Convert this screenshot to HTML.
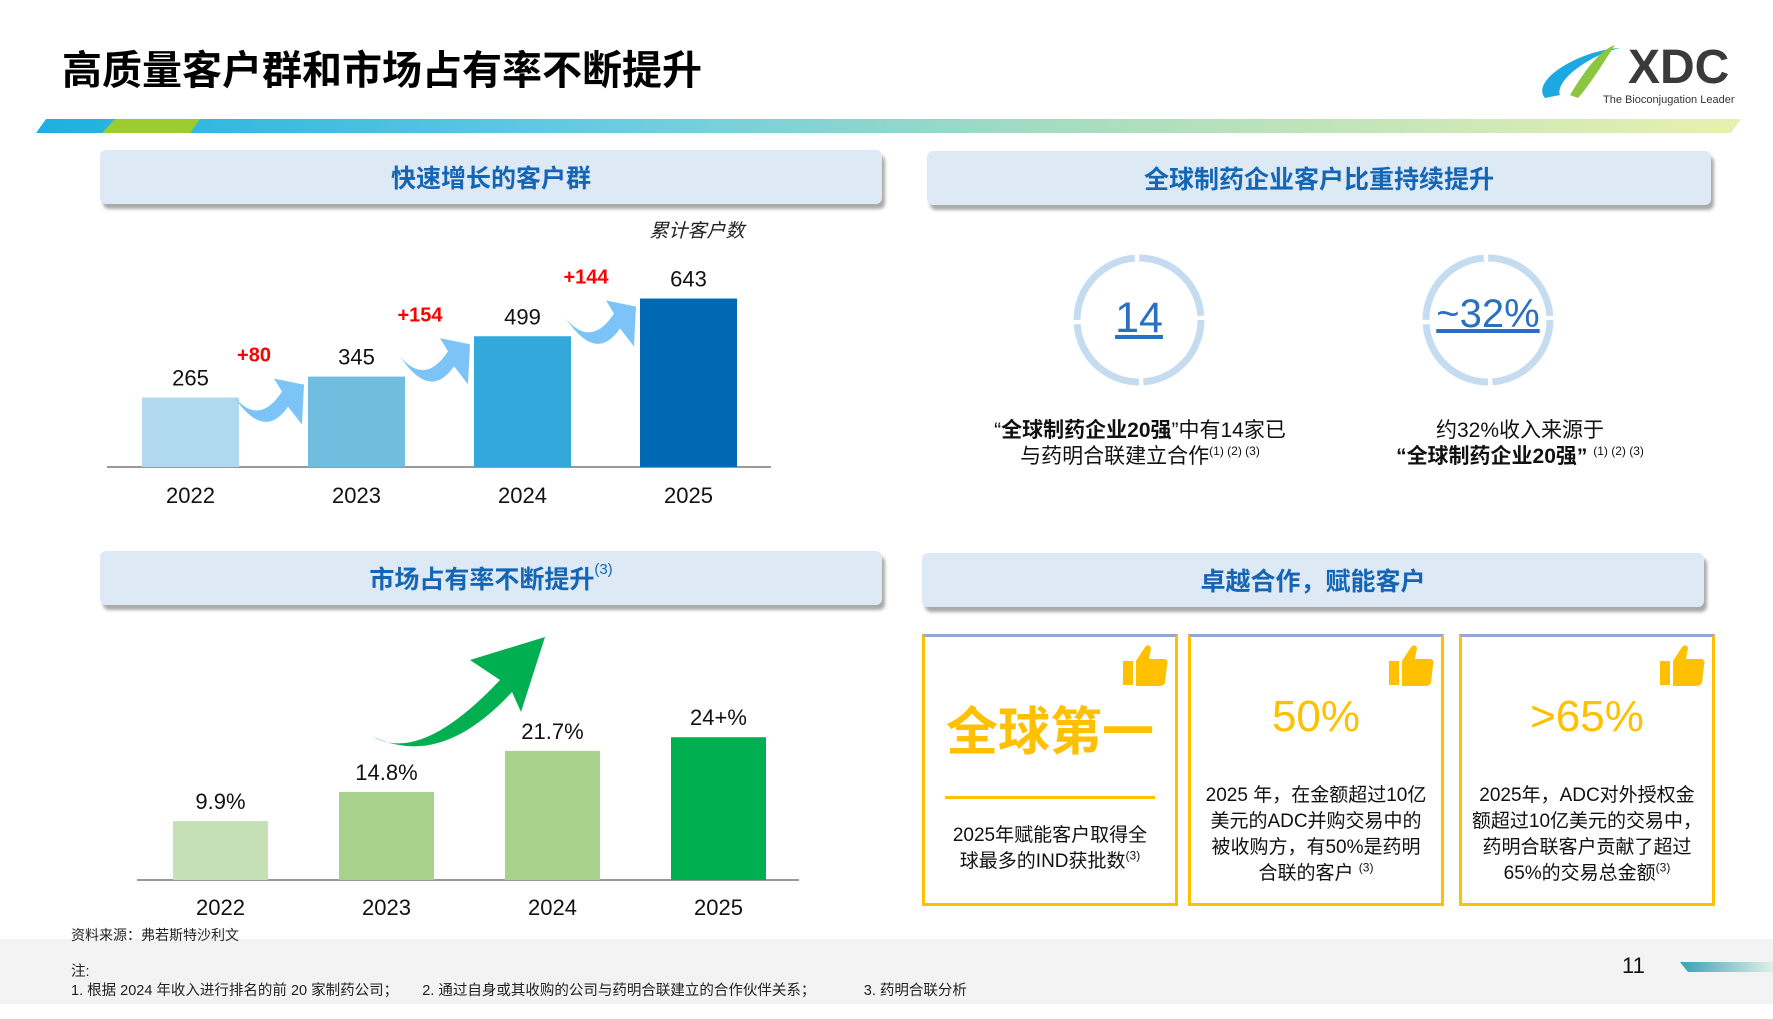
<!DOCTYPE html>
<html><head><meta charset="utf-8">
<style>
*{margin:0;padding:0;box-sizing:border-box}
body{width:1773px;height:1019px;background:#fff;font-family:"Liberation Sans","Noto Sans CJK SC",sans-serif;position:relative;overflow:hidden;color:#111}
.abs{position:absolute}
.hdr{position:absolute;height:54px;background:#dde9f5;border-radius:6px;box-shadow:3px 5px 3px #aaa;color:#1565b5;font-weight:bold;font-size:25px;display:flex;align-items:center;justify-content:center}
.card{position:absolute;border:3px solid #ffc000;border-top-color:#8fa8d8;background:#fff}
.ct{position:absolute;left:0;right:0;text-align:center;font-size:19px;line-height:26px;color:#111}
sup{font-size:12px;line-height:0}
.thumb{position:absolute;right:6px;top:6px}
</style></head><body>
<div class="abs" style="left:62px;top:38px;font-size:40px;font-weight:bold;color:#000">高质量客户群和市场占有率不断提升</div>
<svg class="abs" style="left:0;top:0" width="1773" height="140">
<defs><linearGradient id="sg" x1="0" x2="1"><stop offset="0" stop-color="#1cb0e0"/><stop offset="0.35" stop-color="#6ccde0"/><stop offset="0.6" stop-color="#a6dcc0"/><stop offset="1" stop-color="#e8f0b0"/></linearGradient></defs>
<polygon points="46,119 1741,119 1731,133 36,133" fill="url(#sg)"/>
<polygon points="115,119 200,119 190,133 102,133" fill="#9ccc30"/>
<g>
<path d="M1545,98 C1530,80 1580,50 1620,48 C1590,55 1555,80 1560,95 Z" fill="#1ca8e0"/>
<path d="M1570,95 C1585,70 1600,50 1615,45 C1605,60 1590,85 1578,98 Z" fill="#8cc63f"/>
<text x="1628" y="83" font-size="48" font-weight="bold" fill="#3a3a3a" font-family="Liberation Sans">XDC</text>
<text x="1603" y="103" font-size="11" fill="#333" font-family="Liberation Sans">The Bioconjugation Leader</text>
</g>
</svg>

<div class="hdr" style="left:100px;top:150px;width:782px">快速增长的客户群</div>
<div class="hdr" style="left:927px;top:151px;width:784px">全球制药企业客户比重持续提升</div>
<div class="hdr" style="left:100px;top:551px;width:782px">市场占有率不断提升<sup style="font-weight:normal;font-size:15px;position:relative;top:-8px">(3)</sup></div>
<div class="hdr" style="left:922px;top:553px;width:782px">卓越合作，赋能客户</div>

<svg id="c1" class="abs" style="left:0;top:200px" width="900" height="320"></svg>
<svg id="c2" class="abs" style="left:0;top:620px" width="900" height="310"></svg>

<script>
const years=["2022","2023","2024","2025"];
const customers=[265,345,499,643];
const increments=["+80","+154","+144"];
const shares=[9.9,14.8,21.7,24];
const shareLabels=["9.9%","14.8%","21.7%","24+%"];
const NS="http://www.w3.org/2000/svg";
function mk(p,t,a){const e=document.createElementNS(NS,t);for(const k in a)e.setAttribute(k,a[k]);p.appendChild(e);return e;}
(function(){
const s=document.getElementById('c1');const base=267;const k=0.262;const x0=142,step=166,w=97;
const cols=["#b0d8ef","#70bde0","#33a8da","#0069b4"];
const xa=i=>x0+i*step;
const ya=v=>base-v*k;
mk(s,'line',{x1:107,x2:771,y1:base,y2:base,stroke:'#999','stroke-width':2});
const t=mk(s,'text',{x:697,y:37,'font-size':19,'font-style':'italic','text-anchor':'middle',fill:'#222'});t.textContent='累计客户数';
customers.forEach((v,i)=>{
const r=mk(s,'rect',{x:xa(i),y:ya(v),width:w,height:v*k,fill:cols[i]});


const l=mk(s,'text',{x:xa(i)+w/2,y:ya(v)-12,'font-size':22,'text-anchor':'middle',fill:'#111'});l.textContent=v;
const y=mk(s,'text',{x:xa(i)+w/2,y:303,'font-size':22,'text-anchor':'middle',fill:'#111'});y.textContent=years[i];
});
increments.forEach((d,i)=>{
const xe=xa(i+1)-6, ye=ya(customers[i+1])+10;
const xs=xe-68, ys=ye+10;
const a=mk(s,'path',{d:`M${xs},${ys} Q${xs+25},${ys+30} ${xe-20},${ye+5} L${xe-28},${ye-8} L${xe+2},${ye-2} L${xe},${ye+38} L${xe-14},${ye+20} Q${xs+30},${ys+45} ${xs},${ys} Z`,fill:'#7cc4f8'});


const l=mk(s,'text',{x:xe-48,y:ye-25,'font-size':20,'font-weight':'bold','text-anchor':'middle',fill:'#f00'});l.textContent=d;
});
})();
(function(){
const s=document.getElementById('c2');const base=260;const k=5.95;const x0=173,step=166,w=95;
const cols=["#c5e0b4","#a9d18e","#a9d18e","#00b050"];
const xa=i=>x0+i*step;
const ya=v=>base-v*k;
mk(s,'line',{x1:137,x2:799,y1:base,y2:base,stroke:'#999','stroke-width':2});
shares.forEach((v,i)=>{
const r=mk(s,'rect',{x:xa(i),y:ya(v),width:w,height:v*k,fill:cols[i]});


const l=mk(s,'text',{x:xa(i)+w/2,y:ya(v)-12,'font-size':22,'text-anchor':'middle',fill:'#111'});l.textContent=shareLabels[i];
const y=mk(s,'text',{x:xa(i)+w/2,y:295,'font-size':22,'text-anchor':'middle',fill:'#111'});y.textContent=years[i];
});
const g=mk(s,'path',{d:'M372,116 Q420,145 500,60 L470,40 L545,17 L521,92 L512,72 Q440,150 372,116 Z',fill:'#00b050'});


})();
</script>

<svg class="abs" style="left:1070px;top:252px" width="500" height="140">
<circle cx="69" cy="68" r="62" fill="none" stroke="#c5dcf0" stroke-width="7" stroke-dasharray="93 4.4"/>
<circle cx="418" cy="68" r="62" fill="none" stroke="#c5dcf0" stroke-width="7" stroke-dasharray="93 4.4"/>
</svg>
<div class="abs" style="left:1089px;top:294px;width:100px;text-align:center;font-size:43px;color:#2a70c0;text-decoration:underline">14</div>
<div class="abs" style="left:1418px;top:292px;width:140px;text-align:center;font-size:40px;color:#2a70c0;text-decoration:underline">~32%</div>
<div class="abs" style="left:960px;top:418px;width:360px;text-align:center;font-size:21px;line-height:26px">“<b>全球制药企业20强</b>”中有14家已<br>与药明合联建立合作<sup>(1) (2) (3)</sup></div>
<div class="abs" style="left:1340px;top:418px;width:360px;text-align:center;font-size:21px;line-height:26px">约32%收入来源于<br><b>“全球制药企业20强”</b> <sup>(1) (2) (3)</sup></div>

<div class="card" style="left:922px;top:634px;width:256px;height:272px">
<svg class="thumb" width="46" height="44" viewBox="0 0 46 44"><rect x="0" y="18" width="10" height="24" fill="#ffc000"/><path d="M13,18 L22,4 Q26,0 28,5 L26,16 L42,16 Q46,18 44,22 L42,40 Q40,43 36,43 L13,43 Z" fill="#ffc000"/></svg>
<div class="ct" style="top:66px;font-size:52px;line-height:60px;font-weight:bold;color:#ffc000">全球第一</div>
<div class="abs" style="left:20px;right:20px;top:159px;height:3px;background:#ffc000"></div>
<div class="ct" style="top:186px">2025年赋能客户取得全<br>球最多的IND获批数<sup>(3)</sup></div>
</div>
<div class="card" style="left:1188px;top:634px;width:256px;height:272px">
<svg class="thumb" width="46" height="44" viewBox="0 0 46 44"><rect x="0" y="18" width="10" height="24" fill="#ffc000"/><path d="M13,18 L22,4 Q26,0 28,5 L26,16 L42,16 Q46,18 44,22 L42,40 Q40,43 36,43 L13,43 Z" fill="#ffc000"/></svg>
<div class="ct" style="top:52px;font-size:44px;line-height:56px;color:#ffc000">50%</div>
<div class="ct" style="top:146px">2025 年，在金额超过10亿<br>美元的ADC并购交易中的<br>被收购方，有50%是药明<br>合联的客户 <sup>(3)</sup></div>
</div>
<div class="card" style="left:1459px;top:634px;width:256px;height:272px">
<svg class="thumb" width="46" height="44" viewBox="0 0 46 44"><rect x="0" y="18" width="10" height="24" fill="#ffc000"/><path d="M13,18 L22,4 Q26,0 28,5 L26,16 L42,16 Q46,18 44,22 L42,40 Q40,43 36,43 L13,43 Z" fill="#ffc000"/></svg>
<div class="ct" style="top:52px;font-size:44px;line-height:56px;color:#ffc000">&gt;65%</div>
<div class="ct" style="top:146px">2025年，ADC对外授权金<br>额超过10亿美元的交易中，<br>药明合联客户贡献了超过<br>65%的交易总金额<sup>(3)</sup></div>
</div>

<div class="abs" style="left:0;top:939px;width:1773px;height:65px;background:#f3f3f3"></div>
<div class="abs" style="left:71px;top:925px;font-size:14px;color:#222">资料来源：弗若斯特沙利文</div>
<div class="abs" style="left:71px;top:963px;font-size:14.5px;line-height:19px;color:#222">注:<br>1. 根据 2024 年收入进行排名的前 20 家制药公司；&nbsp;&nbsp;&nbsp;&nbsp;&nbsp;&nbsp;2. 通过自身或其收购的公司与药明合联建立的合作伙伴关系；&nbsp;&nbsp;&nbsp;&nbsp;&nbsp;&nbsp;&nbsp;&nbsp;&nbsp;&nbsp;&nbsp;&nbsp;3. 药明合联分析</div>
<div class="abs" style="left:1622px;top:953px;font-size:22px;color:#111">11</div>
<svg class="abs" style="left:1680px;top:960px" width="93" height="14"><defs><linearGradient id="fg" x1="0" x2="1"><stop offset="0" stop-color="#3aa0b8"/><stop offset="1" stop-color="#e0f0e8"/></linearGradient></defs><polygon points="0,2 93,2 93,12 8,12" fill="url(#fg)"/></svg>
</body></html>
